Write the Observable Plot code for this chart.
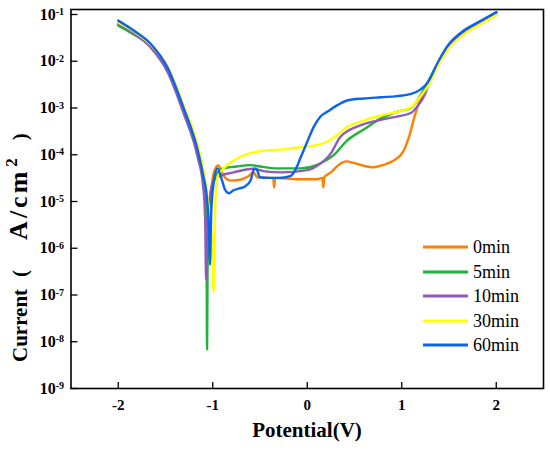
<!DOCTYPE html>
<html>
<head>
<meta charset="utf-8">
<script src="https://cdn.jsdelivr.net/npm/d3@7"></script>
<script src="https://cdn.jsdelivr.net/npm/@observablehq/plot@0.6"></script>
<style>
  html, body { margin: 0; padding: 0; background: #fff; }
</style>
</head>
<body>
<div id="chart"></div>
<script>
const seriesNames = ["0min", "5min", "10min", "30min", "60min"];
const seriesColors = ["#ff7f00", "#1db33c", "#8e5bb5", "#ffff00", "#0a64f0"];
const xTicks = [-2, -1, 0, 1, 2];
const yTicks = [1e-9, 1e-8, 1e-7, 1e-6, 1e-5, 1e-4, 1e-3, 1e-2, 1e-1];
const yTickLabels = ["10^-9", "10^-8", "10^-7", "10^-6", "10^-5", "10^-4", "10^-3", "10^-2", "10^-1"];

// 0min
const potential0 = [-2.00, -1.84, -1.66, -1.48, -1.31, -1.16, -1.10, -1.07, -1.05, -1.035, -1.00, -0.96, -0.94, -0.90, -0.85, -0.80, -0.70, -0.62, -0.57, -0.53, -0.40, -0.36, -0.35, -0.34, -0.10, 0.10, 0.16, 0.17, 0.18, 0.25, 0.33, 0.41, 0.50, 0.60, 0.70, 0.80, 0.92, 1.01, 1.08, 1.13, 1.20, 1.29, 1.38, 1.49, 1.66, 1.84, 2.00];
const current0 = [6.0e-2, 3.9e-2, 2.1e-2, 6.9e-3, 9.8e-4, 1.17e-4, 3.3e-5, 1.0e-5, 2.5e-6, 7.9e-6, 3.2e-5, 5.6e-5, 5.9e-5, 4.0e-5, 3.0e-5, 2.8e-5, 2.95e-5, 3.5e-5, 4.2e-5, 3.3e-5, 3.2e-5, 3.2e-5, 2.0e-5, 3.2e-5, 3.0e-5, 3.0e-5, 3.2e-5, 2.0e-5, 3.3e-5, 4.2e-5, 6.0e-5, 7.2e-5, 6.6e-5, 5.8e-5, 5.4e-5, 6.0e-5, 7.6e-5, 1.12e-4, 2.5e-4, 6.0e-4, 1.6e-3, 3.4e-3, 9.1e-3, 2.1e-2, 4.5e-2, 7.2e-2, 1.12e-1];

// 5min
const potential5 = [-2.00, -1.84, -1.66, -1.48, -1.31, -1.16, -1.10, -1.075, -1.065, -1.06, -1.055, -1.04, -1.00, -0.95, -0.89, -0.75, -0.60, -0.50, -0.32, -0.07, 0.09, 0.20, 0.28, 0.42, 0.60, 0.78, 0.95, 1.10, 1.20, 1.27, 1.38, 1.49, 1.66, 1.84, 2.00];
const current5 = [5.8e-2, 3.8e-2, 2.1e-2, 6.8e-3, 9.5e-4, 1.12e-4, 3.2e-5, 6.3e-6, 6.3e-7, 6.9e-9, 3.2e-7, 5.0e-6, 2.5e-5, 4.2e-5, 5.1e-5, 5.6e-5, 6.0e-5, 5.6e-5, 5.1e-5, 5.1e-5, 5.9e-5, 7.6e-5, 9.8e-5, 2.0e-4, 3.5e-4, 6.0e-4, 8.3e-4, 1.02e-3, 1.9e-3, 3.4e-3, 8.9e-3, 2.1e-2, 4.4e-2, 7.1e-2, 1.1e-1];

// 10min
const potential10 = [-2.00, -1.84, -1.66, -1.48, -1.31, -1.16, -1.10, -1.08, -1.07, -1.06, -1.03, -1.00, -0.95, -0.78, -0.57, -0.45, -0.28, 0.00, 0.11, 0.25, 0.35, 0.57, 0.85, 1.10, 1.17, 1.24, 1.29, 1.38, 1.49, 1.66, 1.84, 2.00];
const current10 = [6.5e-2, 4.0e-2, 2.0e-2, 6.0e-3, 7.9e-4, 8.9e-5, 2.0e-5, 4.0e-6, 2.1e-7, 2.5e-6, 1.26e-5, 2.5e-5, 3.3e-5, 4.2e-5, 5.0e-5, 4.4e-5, 4.2e-5, 4.7e-5, 5.9e-5, 1.07e-4, 2.4e-4, 4.3e-4, 6.0e-4, 7.9e-4, 1.12e-3, 1.86e-3, 3.4e-3, 8.7e-3, 2.0e-2, 4.3e-2, 7.1e-2, 1.1e-1];

// 30min
const potential30 = [-2.00, -1.84, -1.66, -1.48, -1.31, -1.16, -1.10, -1.05, -1.01, -0.99, -0.98, -0.97, -0.95, -0.90, -0.85, -0.67, -0.49, -0.25, -0.07, 0.10, 0.21, 0.30, 0.42, 0.60, 0.78, 0.95, 1.10, 1.20, 1.29, 1.38, 1.49, 1.66, 1.84, 2.00];
const current30 = [6.8e-2, 4.4e-2, 2.3e-2, 7.9e-3, 1.17e-3, 1.6e-4, 5.0e-5, 1.0e-5, 1.6e-6, 1.15e-7, 2.5e-6, 1.26e-5, 3.2e-5, 4.7e-5, 5.9e-5, 9.8e-5, 1.2e-4, 1.3e-4, 1.45e-4, 1.6e-4, 1.9e-4, 2.5e-4, 3.9e-4, 5.4e-4, 6.9e-4, 8.3e-4, 1.05e-3, 1.8e-3, 3.2e-3, 7.9e-3, 1.8e-2, 3.8e-2, 6.3e-2, 9.8e-2];

// 60min
const potential60 = [-2.00, -1.84, -1.66, -1.48, -1.31, -1.16, -1.10, -1.06, -1.04, -1.03, -1.015, -0.99, -0.95, -0.91, -0.87, -0.83, -0.78, -0.72, -0.66, -0.60, -0.56, -0.54, -0.50, -0.40, -0.30, -0.18, -0.12, -0.07, 0.00, 0.07, 0.14, 0.22, 0.32, 0.42, 0.60, 0.78, 0.95, 1.10, 1.20, 1.27, 1.38, 1.49, 1.66, 1.84, 2.00];
const current60 = [7.4e-2, 4.6e-2, 2.4e-2, 7.4e-3, 1.02e-3, 1.26e-4, 3.5e-5, 1.1e-5, 2.5e-6, 4.4e-7, 6.3e-6, 2.5e-5, 5.1e-5, 3.2e-5, 1.8e-5, 1.5e-5, 1.74e-5, 1.9e-5, 2.1e-5, 2.8e-5, 5.0e-5, 5.0e-5, 3.3e-5, 3.2e-5, 3.2e-5, 3.5e-5, 5.0e-5, 8.7e-5, 1.9e-4, 4.0e-4, 6.6e-4, 8.5e-4, 1.15e-3, 1.45e-3, 1.6e-3, 1.7e-3, 1.8e-3, 2.0e-3, 2.5e-3, 3.4e-3, 9.3e-3, 2.2e-2, 4.6e-2, 7.4e-2, 1.12e-1];

const potentials = [potential0, potential5, potential10, potential30, potential60];
const currents = [current0, current5, current10, current30, current60];

const rows = [];
seriesNames.forEach((name, s) => {
  potentials[s].forEach((v, k) => rows.push({series: name, v, i: currents[s][k]}));
});

const W = 550, H = 456;
const mL = 70.5, mR = 7, mT = 9, mB = 68;
const font = "Liberation Serif, Times New Roman, serif";

const chart = Plot.plot({
  width: W, height: H,
  marginLeft: mL, marginRight: mR, marginTop: mT, marginBottom: mB,
  style: {fontFamily: font, background: "#fff", color: "#000"},
  x: {domain: [-2.5, 2.5]},
  y: {type: "log", domain: [1e-9, Math.pow(10, -0.893)]},
  color: {domain: seriesNames, range: seriesColors},
  marks: [
    Plot.line(rows, {x: "v", y: "i", z: "series", stroke: "series", strokeWidth: 2.4, curve: "monotone-x"}),
    Plot.tickX(xTicks, {x: d => d, insetTop: (H - mT - mB) - 6, stroke: "#000", strokeWidth: 1.3}),
    Plot.tickY(yTicks, {y: d => d, insetRight: (W - mL - mR) - 7, stroke: "#000", strokeWidth: 1.3}),
    Plot.axisX(xTicks, {tickSize: 0, tickPadding: 11, fontSize: 15, fontWeight: "bold", fontFamily: font, tickFormat: d => String(d), label: null}),
    Plot.axisY(yTicks, {tickSize: 0, tickPadding: 7, fontSize: 16, fontWeight: "bold", fontFamily: font, tickFormat: d => yTickLabels[yTicks.indexOf(d)], label: null}),
    Plot.frame({stroke: "#000", strokeWidth: 1.6})
  ]
});

const svg = d3.select(chart);
// superscript exponents on y tick labels
svg.selectAll('g[aria-label="y-axis tick label"] text').each(function() {
  const t = this.textContent;
  const parts = t.split("^");
  if (parts.length < 2) return;
  this.textContent = parts[0];
  d3.select(this).append("tspan").attr("dy", "-0.45em").attr("font-size", "10px").text(parts[1]);
});

// axis titles
svg.append("text")
  .attr("x", 307).attr("y", 437)
  .attr("text-anchor", "middle")
  .attr("font-family", font).attr("font-weight", "bold").attr("font-size", 21)
  .text("Potential(V)");

const yt = svg.append("text")
  .attr("transform", "translate(27,362) rotate(-90)")
  .attr("text-anchor", "start")
  .attr("font-family", font).attr("font-weight", "bold").attr("font-size", 21);
yt.append("tspan").text("Current");
yt.append("tspan").attr("dx", 12).text("(");
yt.append("tspan").attr("dx", 30).attr("font-size", 26).attr("letter-spacing", 3).text("A/cm");
yt.append("tspan").attr("dy", -10).attr("dx", 2).attr("font-size", 17).text("2");
yt.append("tspan").attr("dy", 10).attr("dx", 18).text(")");

// legend
const color = chart.scale("color");
const legendY = [247, 272, 296, 321, 345];
seriesNames.forEach((name, k) => {
  svg.append("line")
    .attr("x1", 423).attr("x2", 468)
    .attr("y1", legendY[k]).attr("y2", legendY[k])
    .attr("stroke", color.apply(name)).attr("stroke-width", 2.8);
  svg.append("text")
    .attr("x", 473).attr("y", legendY[k]).attr("dy", "0.34em")
    .attr("text-anchor", "start")
    .attr("font-family", font).attr("font-size", 18).attr("font-weight", "normal")
    .text(name);
});

document.getElementById("chart").appendChild(chart);
</script>
</body>
</html>
